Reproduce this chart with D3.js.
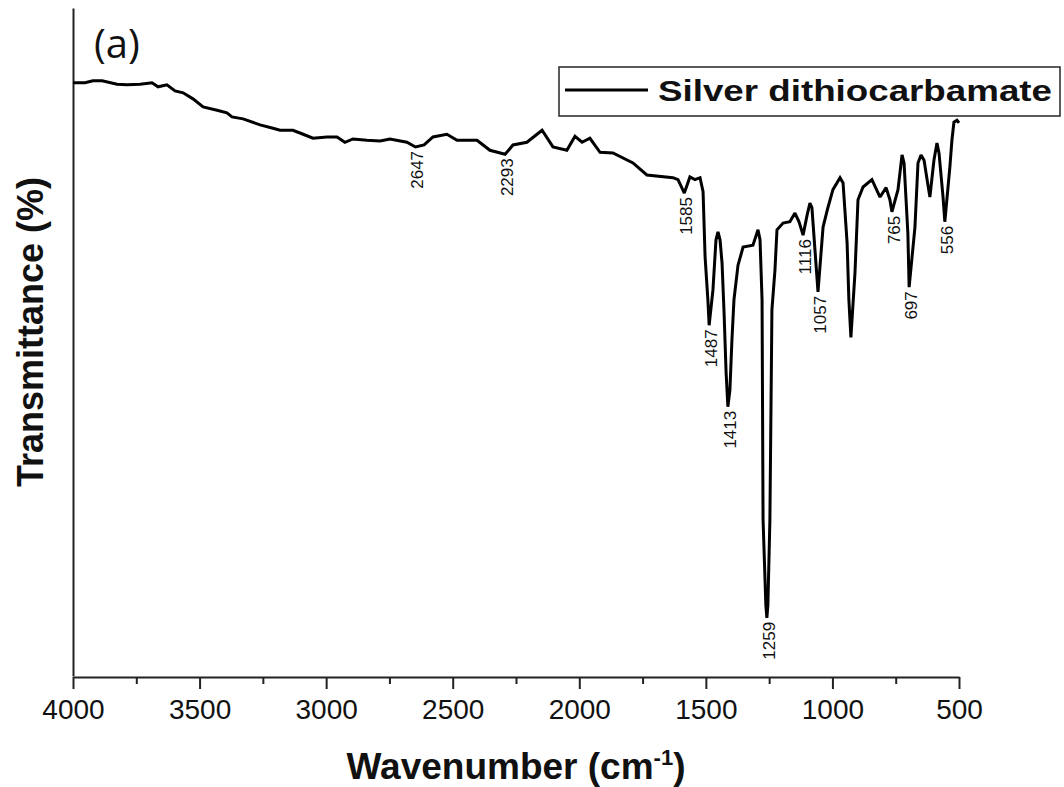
<!DOCTYPE html>
<html>
<head>
<meta charset="utf-8">
<script src="https://cdn.jsdelivr.net/npm/d3@7"></script>
<style>
  html, body { margin: 0; padding: 0; background: #fff; }
  svg { display: block; }
</style>
</head>
<body>
<svg id="chart" width="1064" height="787"></svg>
<script>
// ---- data ----
const wavenumber = [
  4000, 3953, 3921, 3885, 3826, 3787, 3735, 3688, 3664, 3629,
  3597, 3565, 3526, 3486, 3431, 3392, 3372, 3328, 3261, 3210,
  3182, 3131, 3091, 3052, 2997, 2957, 2926, 2894, 2839, 2787,
  2748, 2681, 2647, 2613, 2578, 2523, 2483, 2404, 2353, 2293,
  2262, 2207, 2147, 2104, 2049, 2017, 1989, 1958, 1918, 1867,
  1788, 1733, 1630, 1610, 1585, 1563, 1543, 1523, 1511, 1503,
  1492, 1487, 1472, 1460, 1452, 1444, 1436, 1428, 1420, 1413,
  1405, 1397, 1389, 1373, 1353, 1314, 1294, 1286, 1278, 1274,
  1263, 1259, 1255, 1247, 1239, 1227, 1219, 1195, 1168, 1148,
  1132, 1116, 1100, 1089, 1081, 1069, 1057, 1037, 1018, 998,
  970, 958, 942, 935, 927, 911, 899, 879, 844, 812,
  788, 773, 765, 741, 725, 717, 702, 697, 674, 662,
  650, 638, 626, 615, 599, 587, 579, 563, 556, 536,
  528, 520, 508, 500
];
const transmittance = [
  88.8, 88.8, 89.1, 89.1, 88.6, 88.5, 88.6, 88.8, 88.2, 88.5,
  87.6, 87.3, 86.4, 85.2, 84.7, 84.3, 83.7, 83.4, 82.5, 82.0,
  81.7, 81.7, 81.1, 80.5, 80.7, 80.7, 79.9, 80.4, 80.2, 80.1,
  80.4, 79.9, 79.2, 79.5, 80.7, 81.1, 80.2, 80.2, 78.7, 78.1,
  79.5, 79.9, 81.7, 79.2, 78.7, 80.8, 79.9, 80.5, 78.4, 78.3,
  76.8, 75.0, 74.6, 74.3, 72.3, 74.7, 74.3, 74.6, 72.5, 62.7,
  56.3, 52.5, 57.8, 65.3, 66.5, 65.3, 61.8, 54.3, 45.4, 40.3,
  42.8, 50.3, 56.3, 61.5, 64.2, 64.5, 66.8, 65.3, 56.3, 23.4,
  10.6, 8.7, 10.6, 23.4, 54.8, 60.8, 66.8, 67.8, 68.0, 69.3,
  68.0, 66.0, 69.0, 70.8, 70.1, 63.8, 57.5, 67.2, 70.1, 72.8,
  74.6, 73.8, 64.8, 56.3, 50.7, 60.3, 71.3, 73.2, 74.3, 71.7,
  73.1, 71.3, 69.5, 72.8, 78.0, 76.8, 66.3, 58.2, 67.2, 76.8,
  78.0, 77.2, 74.3, 71.7, 77.2, 79.8, 78.3, 71.7, 68.0, 76.2,
  80.2, 82.9, 83.2, 82.8
];
const peakLabels = [2647, 2293, 1585, 1487, 1413, 1259, 1116, 1057, 765, 697, 556];
const majorTicks = [4000, 3500, 3000, 2500, 2000, 1500, 1000, 500];
const minorTicks = [3750, 3250, 2750, 2250, 1750, 1250, 750];
const seriesName = "Silver dithiocarbamate";
const panelLabel = "(a)";
const xTitle = "Wavenumber (cm";
const yTitle = "Transmittance (%)";

// ---- drawing ----
const svg = d3.select("#chart");
const ARIAL = "'Liberation Sans', Arial, sans-serif";

const x = d3.scaleLinear().domain([4000, 500]).range([73, 959]);
const y = d3.scaleLinear().domain([0, 100]).range([676, 8]);

const data = wavenumber.map((w, i) => ({ w, t: transmittance[i] }));

// y axis (line only)
const yAxis = svg.append("g").attr("transform", "translate(73,0)")
  .call(d3.axisLeft(y).tickValues([]).tickSizeOuter(0));
yAxis.select(".domain").attr("stroke", "#222").attr("stroke-width", 2);

// x axis minor ticks
const xMinor = svg.append("g").attr("transform", "translate(0,677)")
  .call(d3.axisBottom(x).tickValues(minorTicks).tickSize(7).tickFormat(""));
xMinor.select(".domain").remove();
xMinor.selectAll(".tick line").attr("stroke", "#222").attr("stroke-width", 2);

// x axis major
const xAxis = svg.append("g").attr("transform", "translate(0,677)")
  .call(d3.axisBottom(x).tickValues(majorTicks).tickSize(12).tickSizeOuter(0).tickFormat(d3.format("d")));
xAxis.select(".domain").attr("stroke", "#222").attr("stroke-width", 2);
xAxis.selectAll(".tick line").attr("stroke", "#222").attr("stroke-width", 2);
xAxis.selectAll(".tick text")
  .attr("font-family", ARIAL).attr("font-size", 28).attr("fill", "#111")
  .attr("y", 22).attr("dy", "0.71em");

// spectrum line
svg.append("path").datum(data)
  .attr("fill", "none").attr("stroke", "#000").attr("stroke-width", 3)
  .attr("stroke-linejoin", "miter").attr("stroke-miterlimit", 2)
  .attr("d", d3.line().x(d => x(d.w)).y(d => y(d.t)));

// peak labels
peakLabels.forEach(p => {
  const d = data.find(e => e.w === p);
  svg.append("text")
    .attr("transform", `translate(${x(d.w) + 2},${y(d.t) + 4}) rotate(-90)`)
    .attr("text-anchor", "end").attr("dy", "0.35em")
    .attr("font-family", ARIAL).attr("font-size", 17).attr("fill", "#111")
    .text(p);
});

// panel label
svg.append("text").attr("x", 94).attr("y", 58)
  .attr("font-family", "'Open Sans', 'Noto Sans', sans-serif").attr("font-size", 40).attr("fill", "#111")
  .text(panelLabel);

// legend
const lg = svg.append("g");
lg.append("rect").attr("x", 559).attr("y", 67).attr("width", 501).attr("height", 49)
  .attr("fill", "#fff").attr("stroke", "#333").attr("stroke-width", 1.6);
lg.append("line").attr("x1", 565).attr("x2", 648).attr("y1", 90).attr("y2", 90)
  .attr("stroke", "#000").attr("stroke-width", 3);
lg.append("text").attr("x", 658).attr("y", 101)
  .attr("font-family", ARIAL).attr("font-weight", "bold").attr("font-size", 30).attr("fill", "#111")
  .attr("textLength", 394).attr("lengthAdjust", "spacingAndGlyphs")
  .text(seriesName);

// axis titles
const xt = svg.append("text").attr("x", 516).attr("y", 779).attr("text-anchor", "middle")
  .attr("font-family", ARIAL).attr("font-weight", "bold").attr("font-size", 37).attr("fill", "#111");
xt.append("tspan").text(xTitle);
xt.append("tspan").attr("font-size", 22).attr("dy", -14).text("-1");
xt.append("tspan").attr("dy", 14).text(")");

svg.append("text").attr("transform", "translate(43,332) rotate(-90)")
  .attr("text-anchor", "middle")
  .attr("font-family", ARIAL).attr("font-weight", "bold").attr("font-size", 36).attr("fill", "#111")
  .text(yTitle);
</script>
</body>
</html>
